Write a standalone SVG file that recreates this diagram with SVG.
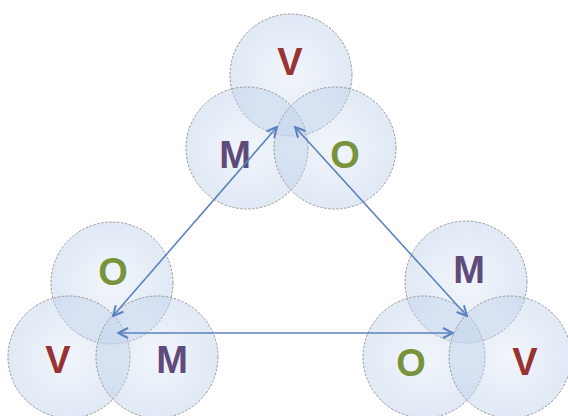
<svg xmlns="http://www.w3.org/2000/svg" width="568" height="416" viewBox="0 0 568 416">
<style>
.c{fill:url(#g);stroke:#9a9a9a;stroke-width:1;stroke-dasharray:2.5 1.5}
.t{font-family:"Liberation Sans","DejaVu Sans",sans-serif;font-weight:bold;font-size:38px;text-anchor:middle}
.v{fill:#993333}.m{fill:#604a7b}.o{fill:#77933c}
.a{stroke:#5b82be;stroke-width:1.6;fill:none;marker-start:url(#h);marker-end:url(#h)}
</style>
<defs>
<radialGradient id="g" cx="0.5" cy="0.5" r="0.5">
<stop offset="0" stop-color="#c9d8ee" stop-opacity="0.25"/>
<stop offset="1" stop-color="#c2d3ec" stop-opacity="0.5"/>
</radialGradient>
<marker id="h" viewBox="0 0 12 12" refX="11" refY="6" markerWidth="12" markerHeight="12" markerUnits="userSpaceOnUse" orient="auto-start-reverse">
<path d="M1,1 L11,6 L1,11" fill="none" stroke="#5b82be" stroke-width="2"/>
</marker>
</defs>
<rect width="568" height="416" fill="#ffffff"/>
<g id="top">
<circle class="c" cx="291" cy="75" r="61"/>
<circle class="c" cx="247" cy="148" r="61"/>
<circle class="c" cx="335" cy="148" r="61"/>
<text class="t v" x="290" y="75">V</text>
<text class="t m" x="235" y="168">M</text>
<text class="t o" x="345" y="168">O</text>
</g>
<g id="left">
<circle class="c" cx="112" cy="283" r="61"/>
<circle class="c" cx="69" cy="357" r="61"/>
<circle class="c" cx="157" cy="357" r="61"/>
<text class="t o" x="113" y="285">O</text>
<text class="t v" x="58" y="373">V</text>
<text class="t m" x="172" y="373">M</text>
</g>
<g id="right">
<circle class="c" cx="466" cy="282" r="61"/>
<circle class="c" cx="424" cy="357" r="61"/>
<circle class="c" cx="510" cy="357" r="61"/>
<text class="t m" x="469" y="283">M</text>
<text class="t o" x="411" y="376">O</text>
<text class="t v" x="525" y="375">V</text>
</g>
<g id="connectors">
<line class="a" x1="113" y1="316" x2="277" y2="127"/>
<line class="a" x1="295" y1="127" x2="467" y2="316"/>
<line class="a" x1="118" y1="333" x2="453" y2="333"/>
</g>
</svg>
